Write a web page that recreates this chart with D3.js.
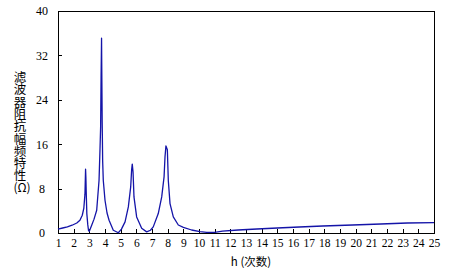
<!DOCTYPE html>
<html><head><meta charset="utf-8">
<script src="https://cdn.jsdelivr.net/npm/d3@7"></script>
<style>body{margin:0;background:#fff;}</style>
</head><body>
<svg id="c" width="453" height="277"></svg>
<script>
const harmonicOrder = [1.0,1.3,1.6,1.9,2.2,2.4,2.55,2.65,2.72,2.76,2.78,2.8,2.84,2.9,2.95,3.0,3.15,3.3,3.47,3.62,3.68,3.72,3.75,3.78,3.79,3.82,3.85,3.89,4.0,4.13,4.26,4.53,4.85,5.05,5.28,5.49,5.64,5.7,5.74,5.79,5.85,6.02,6.34,6.66,6.9,7.08,7.4,7.62,7.77,7.83,7.89,7.98,8.04,8.15,8.36,8.68,9.0,9.53,10.06,10.5,11.0,11.5,12.5,13.7,15.0,16.4,17.9,19.8,21.6,23.3,25.0];
const impedance   = [0.7,0.9,1.1,1.4,1.8,2.3,3.2,4.5,7.0,11.5,10.0,7.5,3.5,1.5,0.4,0.3,1.4,2.5,4.1,9.5,15,19,28,35.1,31,20,13,9.5,5.9,3.6,2.3,0.5,0.05,0.7,2.0,4.7,8.3,11.4,12.4,11,6.5,2.9,0.85,0.2,0.5,1.1,3.5,6.5,10.1,13.7,15.7,15,9.5,5.3,2.9,1.44,1.0,0.54,0.25,0.12,0.1,0.35,0.54,0.72,0.9,1.08,1.26,1.44,1.62,1.8,1.88];
const xTicks = d3.range(1,26);
const yTicks = [0,8,16,24,32,40];
const yTitle = "滤波器阻抗幅频特性";
const yTitleUnit = "(Ω)";
const xTitle = "h (次数)";

const svg = d3.select("#c");
const L=58,R=434,T=11,B=233;
const x = d3.scaleLinear().domain([1,25]).range([L,R]);
const y = d3.scaleLinear().domain([0,40]).range([B,T]);
const tickFont = "'Liberation Serif','DejaVu Serif',serif";

svg.append("rect").attr("x",L).attr("y",T).attr("width",R-L).attr("height",B-T)
  .attr("fill","none").attr("stroke","#000").attr("stroke-width",1).attr("shape-rendering","crispEdges");

const xa = svg.append("g").attr("transform",`translate(0,${B})`)
  .call(d3.axisBottom(x).tickValues(xTicks).tickSizeInner(-4).tickSizeOuter(0).tickPadding(6).tickFormat(d3.format("d")));
xa.select(".domain").remove();
xa.selectAll("line").attr("shape-rendering","crispEdges");
xa.selectAll("text").attr("font-family",tickFont).attr("font-size",11.5).attr("fill","#000");

const ya = svg.append("g").attr("transform",`translate(${L},0)`)
  .call(d3.axisLeft(y).tickValues(yTicks).tickSizeInner(-4).tickSizeOuter(0).tickPadding(0).tickFormat(d3.format("d")));
ya.select(".domain").remove();
ya.selectAll("line").attr("shape-rendering","crispEdges");
ya.selectAll("text").attr("font-family",tickFont).attr("font-size",12).attr("fill","#000")
  .attr("text-anchor","middle").attr("x",-16);

const line = d3.line().x((d,i)=>x(harmonicOrder[i])).y(d=>y(d));
svg.append("path").datum(impedance).attr("d",line)
  .attr("fill","none").attr("stroke","#1414a8").attr("stroke-width",1.3).attr("stroke-linejoin","round");

const cjk = "'Noto Sans CJK SC','Noto Sans',sans-serif";
svg.append("text").attr("x",20).attr("y",71)
  .attr("style","writing-mode:vertical-rl;text-orientation:upright;letter-spacing:-0.2px")
  .attr("font-family",cjk).attr("font-size",12.5).attr("fill","#000").text(yTitle);
svg.append("text").attr("x",22).attr("y",192).attr("text-anchor","middle")
  .attr("font-family",cjk).attr("font-size",12).attr("fill","#000").text(yTitleUnit);
svg.append("text").attr("x",251).attr("y",266).attr("text-anchor","middle")
  .attr("font-family",cjk).attr("font-size",11.5).attr("fill","#000").text(xTitle);
</script>
</body></html>
